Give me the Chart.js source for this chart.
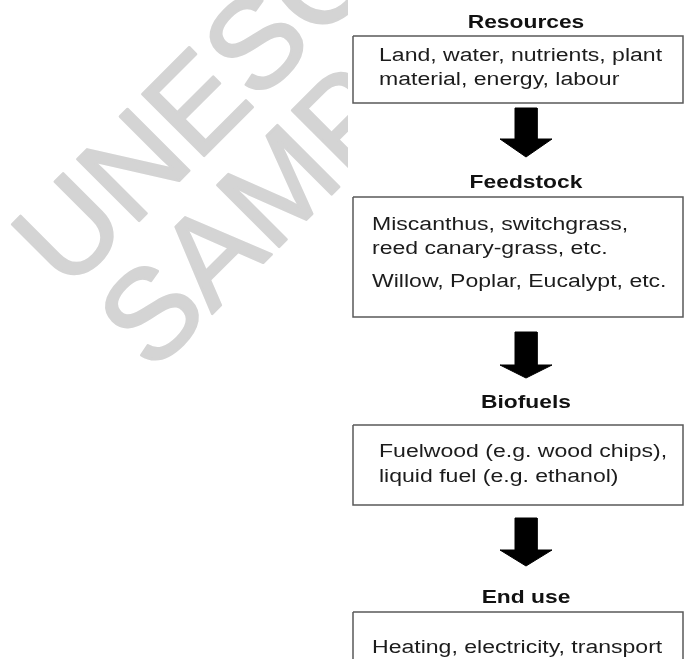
<!DOCTYPE html>
<html>
<head>
<meta charset="utf-8">
<script src="https://cdn.jsdelivr.net/npm/chart.js"></script>
<style>
  body { margin: 0; background: #fff; }
  #wrap { position: relative; width: 684px; height: 659px; }
</style>
</head>
<body>
<div id="wrap"><canvas id="flow"></canvas></div>
<script>
// stages of the flow, top to bottom
const stageTitles = ['Resources', 'Feedstock', 'Biofuels', 'End use'];
const stageLines = [
	['Land, water, nutrients, plant', 'material, energy, labour'],
	['Miscanthus, switchgrass,', 'reed canary-grass, etc.', 'Willow, Poplar, Eucalypt, etc.'],
	['Fuelwood (e.g. wood chips),', 'liquid fuel (e.g. ethanol)'],
	['Heating, electricity, transport']
];
// diagram units (same grid as the axes)
const titleY = [28, 188, 408, 603];
const boxTop = [36, 197, 425, 612];
const boxBottom = [103, 317, 505, 680];
const boxLeft = [353, 353, 353, 353];
const boxRight = [683, 683, 683, 683];
const lineX = [379, 372, 379, 372];
const lineY = [[61, 85], [230, 254, 287], [457, 482], [653]];
const arrowTop = [108, 332, 518];
const arrowNeck = [139, 365, 550];
const arrowTip = [157, 378, 566];
const watermarkWords = ['UNESCO', 'SAMPLE'];
const watermarkAt = [[67, 293], [152, 374]];

const centerX = 526;
const shaftHalf = 11;
const headHalf = 26;

let datasets = [];
for (let i = 0; i < stageTitles.length; i++) {
	datasets.push({
		data: [
			{x: boxLeft[i], y: boxTop[i]},
			{x: boxRight[i], y: boxTop[i]},
			{x: boxRight[i], y: boxBottom[i]},
			{x: boxLeft[i], y: boxBottom[i]},
			{x: boxLeft[i], y: boxTop[i]}
		],
		borderColor: '#5a5a5a',
		borderWidth: 1.5,
		backgroundColor: '#ffffff',
		fill: 'shape'
	});
}
for (let i = 0; i < arrowTop.length; i++) {
	datasets.push({
		data: [
			{x: centerX - shaftHalf, y: arrowTop[i]},
			{x: centerX + shaftHalf, y: arrowTop[i]},
			{x: centerX + shaftHalf, y: arrowNeck[i]},
			{x: centerX + headHalf, y: arrowNeck[i]},
			{x: centerX, y: arrowTip[i]},
			{x: centerX - headHalf, y: arrowNeck[i]},
			{x: centerX - shaftHalf, y: arrowNeck[i]},
			{x: centerX - shaftHalf, y: arrowTop[i]}
		],
		borderColor: '#000000',
		borderWidth: 1,
		backgroundColor: '#000000',
		fill: 'shape'
	});
}

function stretchText(ctx, text, px, py, sx, align) {
	ctx.save();
	ctx.translate(px, py);
	ctx.scale(sx, 1);
	ctx.textAlign = align;
	ctx.textBaseline = 'alphabetic';
	ctx.fillText(text, 0, 0);
	ctx.restore();
}

const flowText = {
	id: 'flowText',
	beforeDatasetsDraw(chart) {
		const ctx = chart.ctx;
		const xs = chart.scales.x, ys = chart.scales.y;
		ctx.save();
		ctx.beginPath();
		ctx.rect(0, 0, xs.getPixelForValue(348), chart.height);
		ctx.clip();
		ctx.fillStyle = '#d4d4d4';
		ctx.strokeStyle = '#d4d4d4';
		ctx.lineWidth = 2.5;
		ctx.lineJoin = 'round';
		ctx.font = '127px "Liberation Sans", Arial, sans-serif';
		for (let i = 0; i < watermarkWords.length; i++) {
			ctx.save();
			ctx.translate(xs.getPixelForValue(watermarkAt[i][0]), ys.getPixelForValue(watermarkAt[i][1]));
			ctx.rotate(-Math.PI / 4);
			ctx.textAlign = 'left';
			ctx.textBaseline = 'alphabetic';
			ctx.fillText(watermarkWords[i], 0, 0);
			ctx.strokeText(watermarkWords[i], 0, 0);
			ctx.restore();
		}
		ctx.restore();
	},
	afterDatasetsDraw(chart) {
		const ctx = chart.ctx;
		const xs = chart.scales.x, ys = chart.scales.y;
		ctx.save();
		for (let i = 0; i < stageTitles.length; i++) {
			ctx.fillStyle = '#111111';
			ctx.font = 'bold 19px "Liberation Sans", Arial, sans-serif';
			stretchText(ctx, stageTitles[i], xs.getPixelForValue(centerX), ys.getPixelForValue(titleY[i]), 1.2, 'center');
			ctx.fillStyle = '#1c1c1c';
			ctx.font = '18px "Liberation Sans", Arial, sans-serif';
			stageLines[i].forEach(function (line, j) {
				stretchText(ctx, line, xs.getPixelForValue(lineX[i]), ys.getPixelForValue(lineY[i][j]), 1.28, 'left');
			});
		}
		ctx.restore();
	}
};

new Chart(document.getElementById('flow').getContext('2d'), {
	type: 'line',
	data: { datasets: datasets },
	options: {
		responsive: true,
		maintainAspectRatio: false,
		animation: false,
		layout: { padding: 0 },
		elements: {
			point: { radius: 0, hoverRadius: 0 },
			line: { tension: 0 }
		},
		plugins: {
			legend: { display: false },
			tooltip: { enabled: false }
		},
		events: [],
		scales: {
			x: { type: 'linear', min: 0, max: 684, display: false },
			y: { type: 'linear', min: 0, max: 659, reverse: true, display: false }
		}
	},
	plugins: [flowText]
});
</script>
</body>
</html>
